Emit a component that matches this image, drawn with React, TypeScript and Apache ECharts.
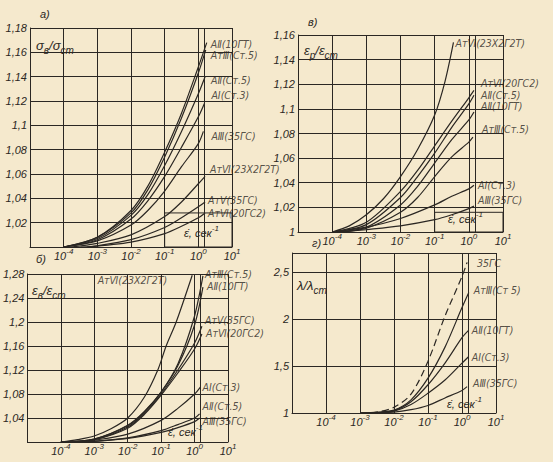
import React, { useEffect, useRef } from 'react';
import * as echarts from 'echarts';

type P = [number, number];

// x values are lg(ε̇, сек⁻¹); y values are the ratios
const xExtent = [1e-5, 10];
const extraGridLg = [-3.85, 0.18];

// ---- а) σв/σст
const namesA = ['АⅡ(10ГТ)', 'АтⅢ(Ст.5)', 'АⅡ(Ст.5)', 'АⅠ(Ст.3)', 'АⅢ(35ГС)', 'АтⅥ(23Х2Г2Т)', 'АтⅤ(35ГС)', 'АтⅥ(20ГС2)'];
const curvesA: P[][] = [
  [[-4, 1], [-3, 1.008], [-2, 1.03], [-1.5, 1.05], [-1, 1.078], [-0.5, 1.11], [0, 1.148], [0.25, 1.168]],
  [[-4, 1], [-3, 1.008], [-2, 1.028], [-1.5, 1.047], [-1, 1.074], [-0.5, 1.106], [0, 1.143], [0.22, 1.162]],
  [[-4, 1], [-3, 1.007], [-2, 1.026], [-1.5, 1.043], [-1, 1.067], [-0.5, 1.095], [0, 1.126], [0.2, 1.14]],
  [[-4, 1], [-3, 1.006], [-2, 1.023], [-1.5, 1.038], [-1, 1.058], [-0.5, 1.082], [0, 1.107], [0.18, 1.118]],
  [[-4, 1], [-3, 1.005], [-2, 1.018], [-1.5, 1.03], [-1, 1.046], [-0.5, 1.066], [0, 1.085], [0.15, 1.095]],
  [[-3.8, 1], [-3, 1.003], [-2, 1.01], [-1, 1.025], [-0.5, 1.037], [0, 1.052], [0.2, 1.058]],
  [[-3.5, 1], [-3, 1.001], [-2, 1.006], [-1, 1.016], [-0.5, 1.024], [0, 1.033], [0.2, 1.037]],
  [[-3.3, 1], [-2, 1.004], [-1, 1.011], [-0.5, 1.017], [0, 1.024], [0.2, 1.028]],
];

// ---- в) εр/εст
const namesB = ['АтⅥ(23Х2Г2Т)', 'АтⅥ(20ГС2)', 'АⅡ(Ст.5)', 'АⅡ(10ГТ)', 'АтⅢ(Ст.5)', 'АⅠ(Ст.3)', 'АⅢ(35ГС)'];
const curvesB: P[][] = [
  [[-4, 1], [-3.5, 1.005], [-3, 1.014], [-2.5, 1.027], [-2, 1.045], [-1.5, 1.067], [-1, 1.095], [-0.7, 1.122], [-0.45, 1.154]],
  [[-4, 1], [-3, 1.008], [-2, 1.033], [-1.5, 1.05], [-1, 1.07], [-0.5, 1.09], [0, 1.109], [0.15, 1.115]],
  [[-4, 1], [-3, 1.006], [-2, 1.028], [-1.5, 1.045], [-1, 1.064], [-0.5, 1.085], [0, 1.104], [0.15, 1.111]],
  [[-4, 1], [-3, 1.004], [-2, 1.022], [-1.5, 1.037], [-1, 1.056], [-0.5, 1.075], [0, 1.091], [0.15, 1.0975]],
  [[-3.7, 1], [-3, 1.003], [-2, 1.016], [-1.5, 1.028], [-1, 1.045], [-0.5, 1.061], [0, 1.073], [0.12, 1.077]],
  [[-4, 1], [-3, 1.004], [-2, 1.011], [-1, 1.022], [-0.5, 1.029], [0, 1.035], [0.15, 1.038]],
  [[-3.8, 1], [-3, 1.002], [-2, 1.005], [-1, 1.01], [-0.5, 1.014], [0, 1.019], [0.15, 1.021]],
];

// ---- б) εв/εст
const namesC = ['АтⅥ(23Х2Г2Т)', 'АтⅢ(Ст.5)', 'АⅡ(10ГТ)', 'АтⅤ(35ГС)', 'АтⅥ(20ГС2)', 'АⅠ(Ст.3)', 'АⅡ(Ст.5)', 'АⅢ(35ГС)'];
const curvesC: P[][] = [
  [[-4, 1], [-3.5, 1.004], [-3, 1.01], [-2.5, 1.022], [-2, 1.04], [-1.5, 1.075], [-1.1, 1.12], [-0.85, 1.16], [-0.55, 1.2], [-0.07, 1.278]],
  [[-4, 1], [-3, 1.005], [-2, 1.027], [-1.5, 1.05], [-1, 1.083], [-0.5, 1.13], [0, 1.21], [0.25, 1.277]],
  [[-4, 1], [-3, 1.005], [-2, 1.028], [-1.5, 1.051], [-1, 1.083], [-0.5, 1.127], [0, 1.195], [0.25, 1.258]],
  [[-4, 1], [-3, 1.004], [-2, 1.025], [-1.5, 1.048], [-1, 1.08], [-0.5, 1.12], [0, 1.165], [0.22, 1.193]],
  [[-4, 1], [-3, 1.004], [-2, 1.023], [-1.5, 1.046], [-1, 1.078], [-0.5, 1.115], [0, 1.155], [0.22, 1.18]],
  [[-3.6, 1], [-3, 1.003], [-2, 1.013], [-1, 1.036], [-0.5, 1.056], [0, 1.08], [0.18, 1.092]],
  [[-3.3, 1], [-2, 1.007], [-1, 1.019], [-0.5, 1.029], [0, 1.04], [0.15, 1.047]],
  [[-3.3, 1], [-2, 1.006], [-1, 1.016], [-0.5, 1.024], [0, 1.034], [0.15, 1.04]],
];

// ---- г) λ/λст
const namesD = ['35ГС', 'АтⅢ(Ст 5)', 'АⅡ(10ГТ)', 'АⅠ(Ст.3)', 'АⅢ(35ГС)'];
const dashedD = [true, false, false, false, false];
const curvesD: P[][] = [
  [[-3, 1], [-2.5, 1.01], [-2, 1.06], [-1.5, 1.2], [-1, 1.55], [-0.5, 2.03], [0, 2.45], [0.15, 2.6]],
  [[-3, 1], [-2.5, 1.008], [-2, 1.03], [-1.5, 1.14], [-1, 1.37], [-0.5, 1.7], [0, 2.12], [0.2, 2.28]],
  [[-3, 1], [-2.5, 1.006], [-2, 1.025], [-1.5, 1.12], [-1, 1.3], [-0.5, 1.53], [0, 1.8], [0.2, 1.88]],
  [[-3, 1], [-2.5, 1.005], [-2, 1.02], [-1.5, 1.09], [-1, 1.21], [-0.5, 1.35], [0, 1.53], [0.2, 1.6]],
  [[-3, 1], [-2, 1.01], [-1.5, 1.035], [-1, 1.08], [-0.5, 1.16], [0, 1.24], [0.15, 1.28]],
];

const INK = '#2b2723';
const PAPER = '#f5e9cd';
const FONT = '"Liberation Sans", "DejaVu Sans", sans-serif';
const LFONT = '"DejaVu Sans Condensed", "DejaVu Sans", sans-serif';

const panels = [
  {
    names: namesA, curves: curvesA, dashed: [] as boolean[],
    grid: { left: 30, top: 28, width: 202, height: 219 },
    y: { min: 1, max: 1.18, interval: 0.02, showOne: false },
    offsets: [[4, 1], [5, 5], [6, 3], [7, -8], [8, 5], [5, -7], [3, -2], [3, 0]],
    leftLabel: [] as number[],
    box: 1.028,
  },
  {
    names: namesB, curves: curvesB, dashed: [] as boolean[],
    grid: { left: 298, top: 35, width: 205, height: 197 },
    y: { min: 1, max: 1.16, interval: 0.02, showOne: true },
    offsets: [[2, 1], [7, -7], [7, 0], [7, -6], [9, -8], [4, 0], [4, -6]],
    leftLabel: [] as number[],
    box: 1.016,
  },
  {
    names: namesC, curves: curvesC, dashed: [] as boolean[],
    grid: { left: 27, top: 274, width: 201, height: 168 },
    y: { min: 1, max: 1.28, interval: 0.04, showOne: false },
    offsets: [[-25, 5], [2, -2], [4, -1], [3, -6], [4, -1], [2, 0], [3, -8], [3, 3]],
    leftLabel: [0],
    box: 0,
  },
  {
    names: namesD, curves: curvesD, dashed: dashedD,
    grid: { left: 292, top: 253, width: 204, height: 160 },
    y: { min: 1, max: 2.7, interval: 0.5, showOne: true },
    offsets: [[10, 1], [5, -3], [3, 0], [3, 0], [6, -4]],
    leftLabel: [] as number[],
    box: 0,
  },
];

const it = { fontStyle: 'italic' as const, fontFamily: FONT, color: INK };

export default function App() {
  const ref = useRef<HTMLDivElement>(null);
  useEffect(() => {
    if (!ref.current) return;
    const chart = echarts.init(ref.current, undefined, { renderer: 'svg' });
    const series: any[] = [];
    panels.forEach((p, i) => {
      p.curves.forEach((c, j) => {
        const s: any = {
          type: 'line', xAxisIndex: i, yAxisIndex: i, name: p.names[j] + ' ' + i,
          data: c.map(([lx, y]) => [Math.pow(10, lx), y]),
          smooth: 0.3, symbol: 'none', silent: true,
          lineStyle: { color: INK, width: 1.2, type: p.dashed[j] ? [7, 4] : 'solid' },
        };
        if (j === 0) {
          s.markLine = {
            silent: true, symbol: ['none', 'none'], label: { show: false },
            lineStyle: { color: INK, width: 1, type: 'solid' },
            data: extraGridLg.map((lx) => ({ xAxis: Math.pow(10, lx) })),
          };
          if (p.box) {
            s.markArea = {
              silent: true,
              itemStyle: { color: 'rgba(0,0,0,0)', borderColor: INK, borderWidth: 1 },
              data: [[{ xAxis: 0.1, yAxis: 1 }, { xAxis: 10, yAxis: p.box }]],
            };
          }
        }
        series.push(s);
      });
      series.push({
        type: 'scatter', xAxisIndex: i, yAxisIndex: i, symbolSize: 0, silent: true,
        itemStyle: { color: 'rgba(0,0,0,0)' },
        data: p.curves.map((c, j) => {
          const [lx, y] = c[c.length - 1];
          return {
            value: [Math.pow(10, lx), y],
            label: {
              show: true, formatter: p.names[j], distance: 0,
              position: p.leftLabel.includes(j) ? 'left' : 'right',
              offset: p.offsets[j],
            },
          };
        }),
        label: { fontStyle: 'italic', fontFamily: LFONT, color: INK, fontSize: 10.5 },
      });
    });

    const xAxis = panels.map((p, i) => ({
      type: 'log', logBase: 10, gridIndex: i, min: xExtent[0], max: xExtent[1],
      axisLine: { show: true, lineStyle: { color: INK, width: 1 } },
      axisTick: { show: false },
      splitLine: { show: true, lineStyle: { color: INK, width: 1 } },
      axisLabel: {
        margin: 0,
        formatter: (v: number) => {
          const e = Math.round(Math.log10(v));
          if (e <= -5) return '';
          return `{b|10}{s|${e}}`;
        },
        rich: {
          b: { ...it, fontSize: 11, lineHeight: 18 },
          s: { ...it, fontSize: 8, lineHeight: 8, verticalAlign: 'top' },
        },
      },
    }));

    const yAxis = panels.map((p, i) => ({
      type: 'value', gridIndex: i, min: p.y.min, max: p.y.max, interval: p.y.interval,
      axisLine: { show: true, lineStyle: { color: INK, width: 1 } },
      axisTick: { show: false },
      splitLine: { show: true, lineStyle: { color: INK, width: 1 } },
      axisLabel: {
        ...it, fontSize: 11, margin: 3,
        formatter: (v: number) => {
          if (Math.abs(v - 1) < 1e-9 && !p.y.showOne) return '';
          if (Math.abs(v - 2.7) < 1e-9) return '';
          return String(+v.toFixed(2)).replace('.', ',');
        },
      },
    }));

    const ratio = (a: string, as: string, b: string, bs: string) =>
      `{m|${a}}{s|${as}}{m|/${b}}{s|${bs}}`;
    const richR = {
      m: { ...it, fontSize: 13, lineHeight: 20 },
      s: { ...it, fontSize: 10, lineHeight: 10, verticalAlign: 'bottom' },
    };
    const rate = '{m|ε̇, сек}{s|-1}';
    const richRate = {
      m: { ...it, fontSize: 11, lineHeight: 18 },
      s: { ...it, fontSize: 8, lineHeight: 8, verticalAlign: 'top' },
    };
    const txt = (x: number, y: number, text: string, rich?: any, size = 11) => ({
      type: 'text', x, y, silent: true,
      style: { text, fill: INK, font: `italic ${size}px ${FONT}`, rich, textVerticalAlign: 'middle' },
    });

    chart.setOption({
      animation: false,
      backgroundColor: PAPER,
      grid: panels.map((p) => ({ ...p.grid, containLabel: false })),
      xAxis, yAxis, series,
      graphic: [
        txt(40, 14, 'а)'), txt(308, 22, 'в)'), txt(36, 259, 'б)'), txt(312, 243, 'г)'),
        txt(36, 45, ratio('σ', 'в', 'σ', 'ст'), richR),
        txt(304, 50, ratio('ε', 'р', 'ε', 'ст'), richR),
        txt(32, 290, ratio('ε', 'в', 'ε', 'ст'), richR),
        txt(297, 285, '{m|λ/λ}{s|ст}', richR),
        txt(184, 233, rate, richRate),
        txt(448, 219, rate, richRate),
        txt(168, 432, rate, richRate),
        txt(447, 404, rate, richRate),
      ],
    });
    return () => chart.dispose();
  }, []);
  return (
    <div
      ref={ref}
      style={{ position: 'fixed', left: 0, top: 0, width: 553, height: 462, background: PAPER }}
    />
  );
}
